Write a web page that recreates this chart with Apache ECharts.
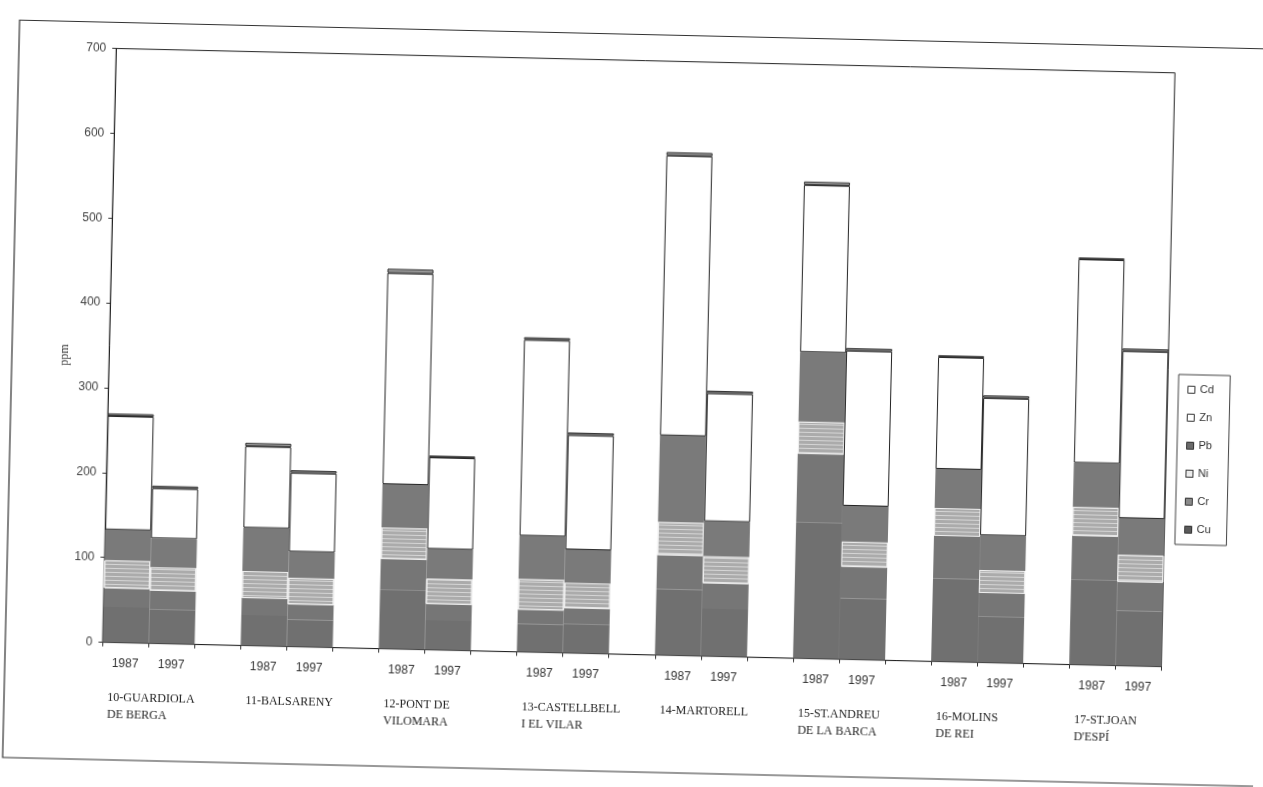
<!DOCTYPE html>
<html><head><meta charset="utf-8">
<script src="https://cdn.jsdelivr.net/npm/echarts@6/dist/echarts.min.js"></script>
<style>
html,body{margin:0;padding:0;background:#fff;width:1263px;height:787px;overflow:hidden}
#c{width:1263px;height:787px;transform-origin:638.75px 357.6px;transform:rotate(1.32deg);background:#fff}
</style></head><body><div id="c"></div>
<script>
// ---- data (ppm) ----
const groups = ['10-GUARDIOLA\nDE BERGA', '11-BALSARENY', '12-PONT DE\nVILOMARA', '13-CASTELLBELL\nI EL VILAR', '14-MARTORELL', '15-ST.ANDREU\nDE LA BARCA', '16-MOLINS\nDE REI', "17-ST.JOAN\nD'ESPÍ"];
const years = ['1987', '1997'];
// values per group, order: 1987, 1997
const Cu = [42, 40, 36, 32, 70, 35, 33, 34, 78, 56, 160, 72, 98, 54, 100, 65];
const Cr = [22, 22, 20, 18, 36, 19, 17, 19, 40, 30, 81, 37, 50, 28, 52, 34];
const Ni = [33, 28, 32, 31, 37, 30, 36, 30, 39, 32, 38, 30, 33, 27, 34, 32];
const Pb = [36, 34, 51, 31, 51, 35, 51, 39, 102, 41, 82, 42, 46, 41, 52, 43];
const Zn = [134, 59, 96, 93, 249, 108, 231, 135, 330, 151, 197, 183, 132, 162, 240, 197];
const Cd = [3, 3, 4, 3, 5, 2, 3, 3, 4, 3, 4, 3, 2, 3, 2, 3];
const yMin = 0, yMax = 700, yStep = 100;
const legendOrder = ['Cd', 'Zn', 'Pb', 'Ni', 'Cr', 'Cu'];

// ---- build category axis: 1987, 1997, gap ----
const cats = [];
const firstIdx = [];
groups.forEach((g, i) => {
  firstIdx.push(cats.length);
  years.forEach(y => cats.push(y));
  if (i < groups.length - 1) cats.push('');
});
function expand(arr) {
  const out = [];
  groups.forEach((g, i) => {
    out.push(arr[2 * i], arr[2 * i + 1]);
    if (i < groups.length - 1) out.push('-');
  });
  return out;
}
const metals = [
  { name: 'Cu', data: Cu, style: { color: '#707070', borderWidth: 0 } },
  { name: 'Cr', data: Cr, style: { color: '#767676', borderWidth: 0 } },
  { name: 'Ni', data: Ni, style: { color: '#ababab', borderColor: '#eeeeee', borderWidth: 1,
      decal: { symbol: 'rect', symbolSize: 1, dashArrayX: [[8, 0]], dashArrayY: [1, 3], rotation: 0, color: 'rgba(255,255,255,0.5)' } } },
  { name: 'Pb', data: Pb, style: { color: '#7a7a7a', borderWidth: 0 } },
  { name: 'Zn', data: Zn, style: { color: '#ffffff', borderColor: '#222', borderWidth: 1 } },
  { name: 'Cd', data: Cd, style: { color: '#9a9a9a', borderColor: '#333', borderWidth: 1 } }
];
const legendIcons = {
  Cd: { color: '#ffffff', borderColor: '#333', borderWidth: 1 },
  Zn: { color: '#ffffff', borderColor: '#333', borderWidth: 1 },
  Pb: { color: '#6a6a6a', borderColor: '#333', borderWidth: 1 },
  Ni: { color: '#e8e8e8', borderColor: '#333', borderWidth: 1 },
  Cr: { color: '#8a8a8a', borderColor: '#333', borderWidth: 1 },
  Cu: { color: '#5a5a5a', borderColor: '#333', borderWidth: 1 }
};

const chart = echarts.init(document.getElementById('c'), null, { renderer: 'canvas' });
const gridBox = { left: 109.25, top: 60.6, right: 94.75, bottom: 132.4 };
const option = {
  animation: false,
  backgroundColor: '#fff',
  grid: Object.assign({ show: true, borderColor: '#222', borderWidth: 1, backgroundColor: 'transparent' }, gridBox),
  legend: {
    orient: 'vertical', left: 1179, top: 362,
    data: legendOrder.map(n => ({ name: n, itemStyle: legendIcons[n] })),
    icon: 'rect', itemWidth: 7, itemHeight: 7, itemGap: 16,
    textStyle: { fontSize: 11, lineHeight: 12, color: '#333', fontFamily: 'Liberation Sans' },
    borderColor: '#444', borderWidth: 1, padding: [9, 16, 9, 9]
  },
  xAxis: {
    type: 'category', data: cats,
    axisLine: { lineStyle: { color: '#222', width: 1 } },
    axisTick: { show: true, interval: 0, length: 4, lineStyle: { color: '#333' } },
    axisLabel: { interval: 0, fontSize: 12, margin: 15, color: '#333', fontFamily: 'Liberation Sans' },
    splitLine: { show: false }
  },
  yAxis: {
    type: 'value', min: yMin, max: yMax, interval: yStep,
    axisLine: { show: true, lineStyle: { color: '#222', width: 1 } },
    axisTick: { show: true, length: 4, lineStyle: { color: '#333' } },
    axisLabel: { fontSize: 12, margin: 10, color: '#444', fontFamily: 'Liberation Sans' },
    splitLine: { show: false }
  },
  series: metals.map(m => ({
    name: m.name, type: 'bar', stack: 'total',
    barWidth: '100%', barCategoryGap: '0%',
    data: expand(m.data),
    itemStyle: m.style
  }))
};
chart.setOption(option);

// ---- labels placed via the library's scales ----
const axisY = chart.convertToPixel({ yAxisIndex: 0 }, 0);
const els = [
  { type: 'rect', silent: true, z: -10, shape: { x: 12, y: 34.5, width: 1290, height: 737.5 }, style: { fill: 'none', stroke: '#333', lineWidth: 1.2 } },
  { type: 'text', silent: true, x: 65, y: 368, rotation: Math.PI / 2, style: { text: 'ppm', fontSize: 12, fontFamily: 'Liberation Serif', fill: '#333', align: 'center', verticalAlign: 'middle' } }
];
groups.forEach((g, i) => {
  const cx = chart.convertToPixel({ xAxisIndex: 0 }, firstIdx[i]);
  els.push({ type: 'text', silent: true, x: cx - 17, y: axisY + 47, style: { text: g, fontSize: 12, lineHeight: 17, fontFamily: 'Liberation Serif', fill: '#222', align: 'left', verticalAlign: 'top' } });
});
chart.setOption({ graphic: { elements: els } });
</script>
</body></html>
